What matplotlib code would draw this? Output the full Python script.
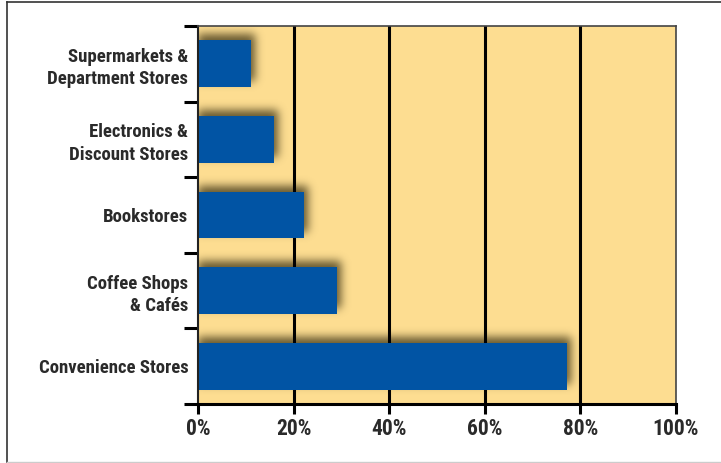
import numpy as np
import matplotlib
matplotlib.use("Agg")
import matplotlib.pyplot as plt
from matplotlib.lines import Line2D

plt.rcParams["font.family"] = ["Roboto Condensed", "DejaVu Sans"]

# ---- data (top to bottom) ----
categories = [
    "Supermarkets &\nDepartment Stores",
    "Electronics &\nDiscount Stores",
    "Bookstores",
    "Coffee Shops\n& Cafés",
    "Convenience Stores",
]
values = [11.1, 15.9, 22.2, 29.1, 77.2]
xticks = [0, 20, 40, 60, 80, 100]
xtick_labels = ["0%", "20%", "40%", "60%", "80%", "100%"]

BG = "#FDDD91"
BAR = "#0154A4"
TXT = "#2a2a2a"

fig = plt.figure(figsize=(7.21, 4.63), dpi=100)
ax = fig.add_axes([198 / 721, 59 / 463, 478 / 721, 378 / 463])
ax.set_facecolor(BG)

pos = np.arange(len(categories))
bar_h = 0.62
n = len(categories)

# ---- soft drop shadow (blurred copy of the bars, shifted right and up) ----
W, H = 478, 378
mask = np.zeros((H, W))
dx, dy = 4, -6
for p, v in zip(pos, values):
    r0 = int(round((p - bar_h / 2 + 0.5) / n * H)) + dy
    r1 = int(round((p + bar_h / 2 + 0.5) / n * H)) + dy
    c1 = int(round(v / 100 * W)) + dx
    mask[max(r0, 0):r1, 0:c1] = 1.0
sig = 4.5
k = np.arange(-14, 15)
kern = np.exp(-k ** 2 / (2 * sig ** 2))
kern /= kern.sum()
blur = np.apply_along_axis(lambda r: np.convolve(r, kern, mode="same"), 1, mask)
blur = np.apply_along_axis(lambda c: np.convolve(c, kern, mode="same"), 0, blur)
shadow = np.zeros((H, W, 4))
shadow[..., 0] = 0.25
shadow[..., 1] = 0.21
shadow[..., 2] = 0.09
shadow[..., 3] = np.clip(blur * 0.8, 0, 1)
ax.imshow(shadow, extent=(0, 100, n - 0.5, -0.5), origin="upper",
          aspect="auto", interpolation="bilinear", zorder=1.5)

ax.barh(pos, values, height=bar_h, color=BAR, zorder=3)

ax.set_xlim(0, 100)
ax.set_ylim(n - 0.5, -0.5)

# vertical grid lines
for x in xticks[1:-1]:
    ax.axvline(x, color="black", linewidth=2.2, zorder=2)

ax.set_xticks(xticks)
ax.set_xticklabels(xtick_labels, fontsize=15.5, fontweight="bold", color=TXT)
ax.tick_params(axis="x", direction="out", length=7, width=2.2, pad=3, color="black")

ax.set_yticks(pos)
ax.set_yticklabels(categories, fontsize=13.5, fontweight="bold", color=TXT,
                   linespacing=1.3)
ax.tick_params(axis="y", which="major", length=0, pad=7)
ax.set_yticks(list(pos - 0.5) + [n - 0.5], minor=True)
ax.tick_params(axis="y", which="minor", direction="out", length=10, width=2.2,
               color="black")

ax.spines["bottom"].set_linewidth(2.2)
ax.spines["bottom"].set_color("black")
ax.spines["left"].set_linewidth(1.5)
ax.spines["left"].set_color("#222222")
ax.spines["top"].set_linewidth(1.2)
ax.spines["top"].set_color("#444444")
ax.spines["right"].set_linewidth(1.2)
ax.spines["right"].set_color("#444444")
for s in ax.spines.values():
    s.set_zorder(4)

# outer frame of the figure
fig.add_artist(Line2D([7 / 721, 7 / 721], [1 / 463, 461 / 463],
                      transform=fig.transFigure, color="#333333", linewidth=1.2))
fig.add_artist(Line2D([7 / 721, 1.0], [461 / 463, 461 / 463],
                      transform=fig.transFigure, color="#333333", linewidth=1.2))
fig.add_artist(Line2D([7 / 721, 1.0], [1 / 463, 1 / 463],
                      transform=fig.transFigure, color="#cccccc", linewidth=1.0))

fig.savefig("out.png", dpi=100, facecolor="white")
